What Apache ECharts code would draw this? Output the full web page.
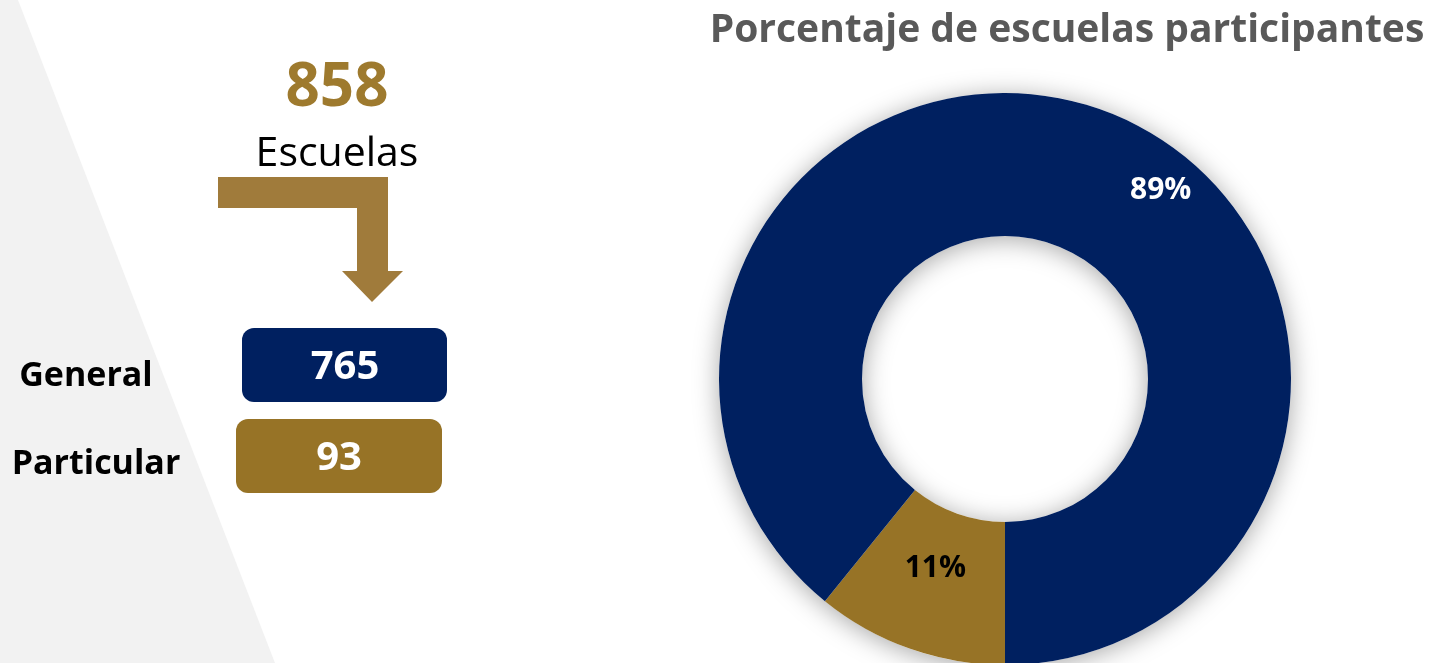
<!DOCTYPE html>
<html>
<head>
<meta charset="utf-8">
<style>
    html, body {margin: 0; padding: 0; background: #FFFFFF;}
    #main {width: 1433px; height: 663px;}
</style>
</head>
<body>
<div id="main"></div>
<script src="https://cdn.jsdelivr.net/npm/echarts@6/dist/echarts.min.js"></script>
<script>
    // datos
    var categories = ['General', 'Particular'];
    var values = [765, 93];
    var colors = ['#002060', '#977326'];
    var totalLabel = 'Escuelas';
    var title0 = 'Porcentaje de escuelas participantes';

    var total = values[0] + values[1];
    var font = '"Open Sans", "Noto Sans", sans-serif';

    var myChart = echarts.init(document.getElementById('main'));

    // orden del anillo: Particular primero, arrancando abajo
    var pieData = [
        {name: categories[1], value: values[1], itemStyle: {color: colors[1]},
            label: {color: '#000000'}},
        {name: categories[0], value: values[0], itemStyle: {color: colors[0]},
            label: {color: '#FFFFFF'}}
    ];

    var option = {
        backgroundColor: '#FFFFFF',
        animation: false,
        title: {
            text: title0,
            left: 1062,
            top: 6,
            textAlign: 'center',
            textStyle: {color: '#595959', fontSize: 39, fontWeight: 'bold', fontFamily: font}
        },
        graphic: [
            // fondo gris
            {type: 'polygon', z: -10, shape: {points: [[0, 0], [18, 0], [275, 663], [0, 663]]},
                style: {fill: '#F2F2F2'}},
            {type: 'text', style: {text: String(total), x: 337, y: 89, textAlign: 'center', textVerticalAlign: 'middle',
                fill: '#9E7A2E', fontSize: 60, fontWeight: 'bold', fontFamily: font}},
            {type: 'text', style: {text: totalLabel, x: 337, y: 154, textAlign: 'center', textVerticalAlign: 'middle',
                fill: '#000000', fontSize: 41, fontFamily: font}},
            // flecha
            {type: 'polygon', shape: {points: [[218, 177], [388, 177], [388, 271], [403, 271], [372, 302],
                [342, 271], [357, 271], [357, 208], [218, 208]]}, style: {fill: '#A07B3B'}},
            {type: 'rect', shape: {x: 242, y: 328, width: 205, height: 74, r: 12}, style: {fill: colors[0]}},
            {type: 'rect', shape: {x: 236, y: 419, width: 206, height: 74, r: 12}, style: {fill: colors[1]}},
            {type: 'text', style: {text: String(values[0]), x: 345, y: 368, textAlign: 'center', textVerticalAlign: 'middle',
                fill: '#FFFFFF', fontSize: 40, fontWeight: 'bold', fontFamily: font}},
            {type: 'text', style: {text: String(values[1]), x: 339, y: 459, textAlign: 'center', textVerticalAlign: 'middle',
                fill: '#FFFFFF', fontSize: 40, fontWeight: 'bold', fontFamily: font}},
            {type: 'text', style: {text: categories[0], x: 86, y: 376, textAlign: 'center', textVerticalAlign: 'middle',
                fill: '#000000', fontSize: 34, fontWeight: 'bold', fontFamily: font}},
            {type: 'text', style: {text: categories[1], x: 96, y: 464, textAlign: 'center', textVerticalAlign: 'middle',
                fill: '#000000', fontSize: 34, fontWeight: 'bold', fontFamily: font}}
        ],
        series: [
            {
                // sombra del anillo completo
                type: 'pie',
                silent: true,
                z: 1,
                center: [1005, 379],
                radius: [143, 286],
                label: {show: false},
                labelLine: {show: false},
                itemStyle: {
                    color: '#FFFFFF',
                    shadowBlur: 26,
                    shadowColor: 'rgba(0, 0, 0, 0.35)',
                    shadowOffsetY: 3
                },
                data: [total]
            },
            {
                type: 'pie',
                z: 2,
                center: [1005, 379],
                radius: [143, 286],
                startAngle: -90,
                clockwise: true,
                avoidLabelOverlap: false,
                label: {
                    show: true,
                    position: 'inside',
                    fontSize: 30,
                    fontWeight: 'bold',
                    fontFamily: font,
                    formatter: function (p) {
                        return Math.round(p.percent) + '%';
                    }
                },
                labelLine: {show: false},
                labelLayout: function (p) {
                    if (p.dataIndex === 1) {
                        return {dx: 83, dy: 16};
                    }
                    return {dx: 3, dy: -16};
                },
                emphasis: {disabled: true},
                data: pieData
            }
        ]
    };

    myChart.setOption(option);
</script>
</body>
</html>
